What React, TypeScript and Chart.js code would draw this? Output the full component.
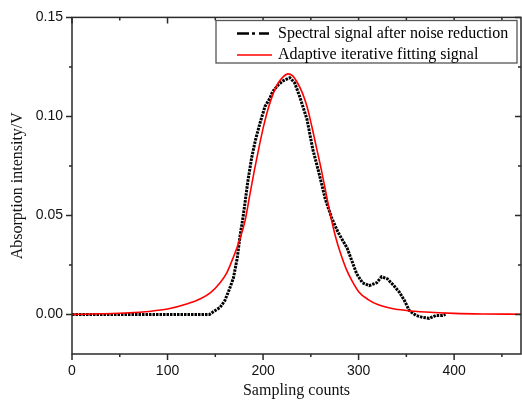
import { useEffect, useRef } from 'react';
import { Chart, registerables } from 'chart.js';

Chart.register(...registerables);

const seriesNames = ['Spectral signal after noise reduction', 'Adaptive iterative fitting signal'];

const measuredX = [0, 40, 80, 120, 144, 150, 155, 160, 165, 169, 173, 176, 179, 181, 184, 188, 192, 197, 202, 207, 210, 216, 221, 228, 233, 238, 246, 252, 259, 265, 272, 278, 282, 288, 293, 298, 304, 311, 319, 324, 330, 337, 343, 348, 353, 360, 367, 374, 381, 388, 391];
const measuredY = [0, 0, 0, 0, 0, 0.002, 0.0035, 0.007, 0.013, 0.0185, 0.0285, 0.04, 0.049, 0.056, 0.067, 0.079, 0.088, 0.097, 0.105, 0.109, 0.1125, 0.116, 0.118, 0.1195, 0.117, 0.1105, 0.0985, 0.0835, 0.0705, 0.0585, 0.0485, 0.042, 0.0385, 0.0335, 0.027, 0.0205, 0.016, 0.0145, 0.016, 0.019, 0.018, 0.0145, 0.011, 0.007, 0.002, -0.0005, -0.0015, -0.002, -0.0005, -0.0005, 0];

const fittedX = [0, 30, 60, 80, 100, 120, 135, 145, 155, 162, 169, 175, 181, 186, 191, 196, 201, 206, 211, 216, 221, 226, 231, 236, 241, 246, 251, 256, 261, 266, 271, 276, 281, 287, 293, 300, 310, 320, 335, 350, 370, 400, 430, 470];
const fittedY = [0, 0.0003, 0.0008, 0.0015, 0.0027, 0.0052, 0.008, 0.011, 0.016, 0.021, 0.029, 0.037, 0.047, 0.06, 0.073, 0.085, 0.096, 0.105, 0.112, 0.117, 0.12, 0.1215, 0.1205, 0.117, 0.112, 0.105, 0.095, 0.084, 0.073, 0.061, 0.049, 0.039, 0.031, 0.023, 0.017, 0.0115, 0.0075, 0.005, 0.003, 0.002, 0.0012, 0.0005, 0.0002, 0.0001];

const xMajorTicks = [0, 100, 200, 300, 400];
const xMinorTicks = [50, 150, 250, 350, 450];
const yMajorTicks = [0, 0.05, 0.1, 0.15];
const yMinorTicks = [0.025, 0.075, 0.125];

const xLabel = 'Sampling counts';
const yLabel = 'Absorption intensity/V';

const frameAndLegend = {
  id: 'frameAndLegend',
  afterDraw(chart: any) {
    const { ctx, chartArea: a, scales } = chart;
    const xs = scales.x;
    const ys = scales.y;
    ctx.save();
    ctx.strokeStyle = '#2a2a2a';
    ctx.lineWidth = 1.5;
    ctx.setLineDash([]);
    ctx.strokeRect(a.left, a.top, a.right - a.left, a.bottom - a.top);
    ctx.beginPath();
    const tick = (x1: number, y1: number, x2: number, y2: number) => {
      ctx.moveTo(x1, y1);
      ctx.lineTo(x2, y2);
    };
    xMajorTicks.forEach((v) => {
      const p = xs.getPixelForValue(v);
      tick(p, a.bottom, p, a.bottom + 6);
      tick(p, a.top, p, a.top + 6);
    });
    xMinorTicks.forEach((v) => {
      const p = xs.getPixelForValue(v);
      tick(p, a.bottom, p, a.bottom + 3);
      tick(p, a.top, p, a.top + 3);
    });
    yMajorTicks.forEach((v) => {
      const p = ys.getPixelForValue(v);
      tick(a.left - 6, p, a.left, p);
      tick(a.right, p, a.right - 6, p);
    });
    yMinorTicks.forEach((v) => {
      const p = ys.getPixelForValue(v);
      tick(a.left - 3, p, a.left, p);
      tick(a.right, p, a.right - 3, p);
    });
    ctx.stroke();

    // legend
    const lx = 216, ly = 20.5, lw = 301, lh = 42.5;
    ctx.fillStyle = '#ffffff';
    ctx.fillRect(lx, ly, lw, lh);
    ctx.strokeStyle = '#555555';
    ctx.lineWidth = 1.3;
    ctx.strokeRect(lx, ly, lw, lh);

    const row1 = 33.5, row2 = 55;
    ctx.strokeStyle = '#000000';
    ctx.lineWidth = 2.5;
    ctx.setLineDash([12, 3, 3, 4]);
    ctx.beginPath();
    ctx.moveTo(237, row1);
    ctx.lineTo(269, row1);
    ctx.stroke();
    ctx.setLineDash([]);
    ctx.strokeStyle = '#ff0000';
    ctx.lineWidth = 1.5;
    ctx.beginPath();
    ctx.moveTo(237, row2);
    ctx.lineTo(272, row2);
    ctx.stroke();

    ctx.fillStyle = '#000000';
    ctx.font = '16px "Liberation Serif", "Times New Roman", serif';
    ctx.textBaseline = 'middle';
    ctx.textAlign = 'left';
    ctx.fillText(seriesNames[0], 278, row1);
    ctx.fillText(seriesNames[1], 278, row2);
    ctx.restore();
  },
};

export default function App() {
  const ref = useRef<HTMLCanvasElement | null>(null);
  useEffect(() => {
    document.body.style.margin = '0';
    const canvas = ref.current;
    if (!canvas) return;
    const chart = new Chart(canvas, {
      type: 'line',
      data: {
        datasets: [
          {
            label: seriesNames[0],
            data: measuredX.map((x, i) => ({ x, y: measuredY[i] })),
            borderColor: '#000000',
            borderWidth: 3,
            borderDash: [2.5, 1],
            pointRadius: 0,
            tension: 0,
            order: 2,
          },
          {
            label: seriesNames[1],
            data: fittedX.map((x, i) => ({ x, y: fittedY[i] })),
            borderColor: '#ff0000',
            borderWidth: 1.6,
            pointRadius: 0,
            cubicInterpolationMode: 'monotone',
            order: 1,
          },
        ],
      },
      options: {
        responsive: false,
        animation: false,
        layout: { padding: { top: 15.5, right: 1, left: 0, bottom: 0 } },
        plugins: { legend: { display: false }, tooltip: { enabled: false } },
        scales: {
          x: {
            type: 'linear',
            min: 0,
            max: 470,
            afterBuildTicks: (s: any) => {
              s.ticks = xMajorTicks.map((v) => ({ value: v }));
            },
            afterFit: (s: any) => {
              s.height = 50;
            },
            grid: { display: false, drawTicks: false },
            border: { display: false },
            ticks: {
              padding: 9,
              maxRotation: 0,
              color: '#111111',
              font: { family: '"Liberation Sans", Arial, sans-serif', size: 14 },
              callback: (v: any) => String(v),
            },
            title: {
              display: true,
              text: xLabel,
              color: '#111111',
              font: { family: '"Liberation Serif", "Times New Roman", serif', size: 16 },
              padding: { top: 0, bottom: 4 },
            },
          },
          y: {
            type: 'linear',
            min: -0.02,
            max: 0.15,
            afterBuildTicks: (s: any) => {
              s.ticks = yMajorTicks.map((v) => ({ value: v }));
            },
            afterFit: (s: any) => {
              s.width = 72;
            },
            grid: { display: false, drawTicks: false },
            border: { display: false },
            ticks: {
              padding: 9,
              color: '#111111',
              font: { family: '"Liberation Sans", Arial, sans-serif', size: 14 },
              callback: (v: any) => Number(v).toFixed(2),
            },
            title: {
              display: true,
              text: yLabel,
              color: '#111111',
              font: { family: '"Liberation Serif", "Times New Roman", serif', size: 16 },
              padding: { top: 8, bottom: 0 },
            },
          },
        },
      },
      plugins: [frameAndLegend],
    } as any);
    return () => chart.destroy();
  }, []);
  return (
    <div style={{ width: 522, height: 404 }}>
      <canvas ref={ref} width={522} height={404} style={{ display: 'block' }} />
    </div>
  );
}
